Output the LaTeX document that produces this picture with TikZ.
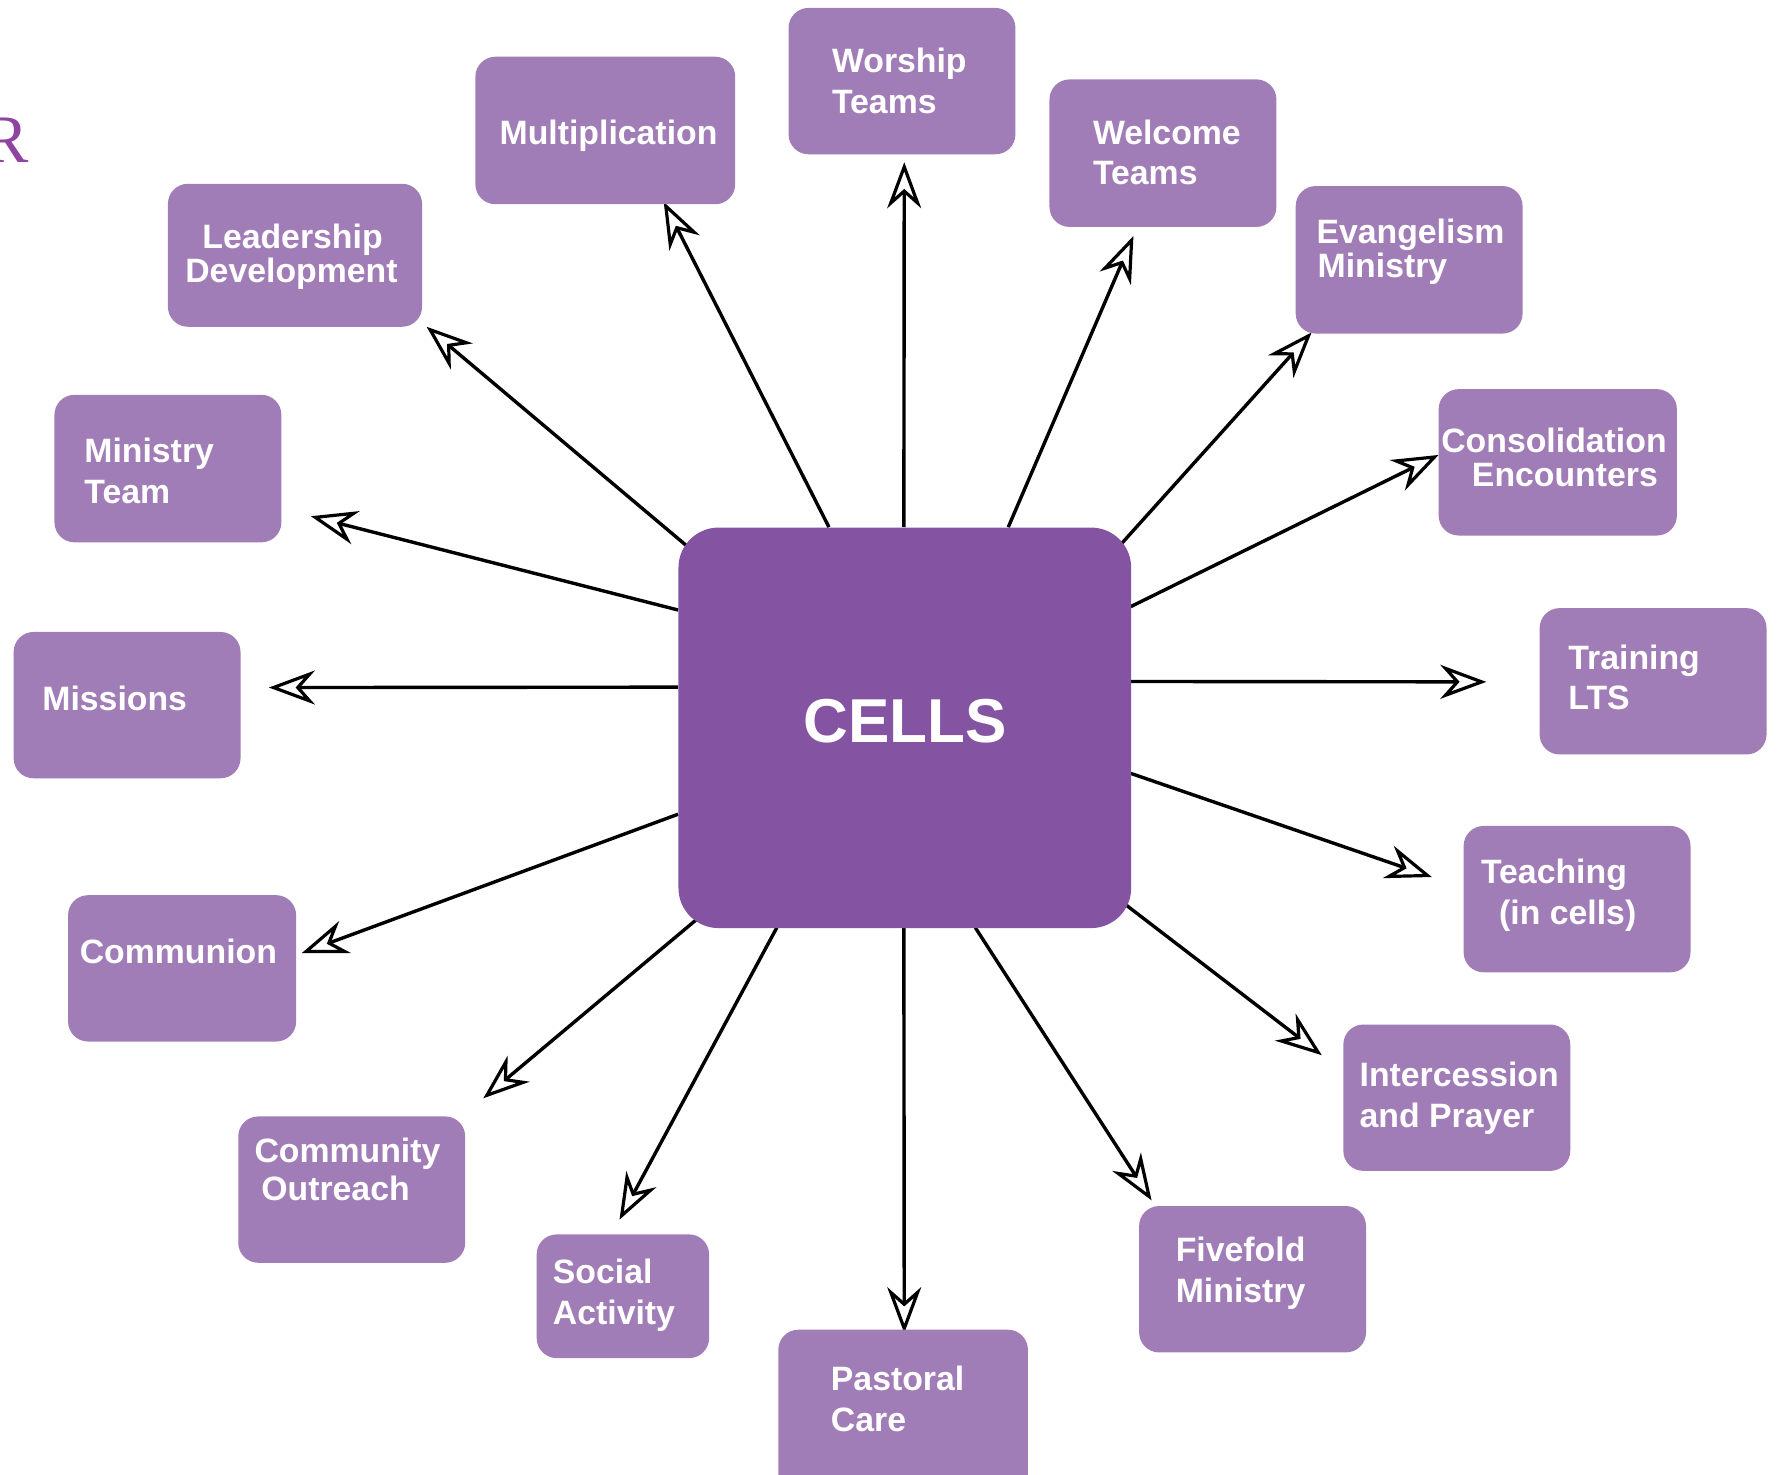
\documentclass[tikz,border=0pt]{standalone}
\usepackage{fontspec}
\setmainfont{Liberation Sans}
\newfontfamily\serifR{Liberation Serif}
\usetikzlibrary{arrows.meta,fit,calc,backgrounds}
\definecolor{boxc}{HTML}{A17DB8}
\definecolor{cellc}{HTML}{8454A2}
\definecolor{rc}{HTML}{8E44A0}
\tikzset{
  box/.style={fill=boxc, rounded corners=10pt, inner sep=0pt},
  cellbox/.style={fill=cellc, rounded corners=20pt, inner sep=0pt},
  lbl/.style={anchor=base west, inner sep=0pt, text=white, font=\fontsize{16.9}{20}\selectfont\bfseries},
  arr/.style={line width=1.7pt, -{Stealth[length=23pt, width=17pt, inset=7.5pt, fill=white, line width=1.6pt]}},
}
\begin{document}
\begin{tikzpicture}[x=0.5673pt, y=-0.5673pt]
\useasboundingbox (0,0) rectangle (1568,1300);

% letter at the left edge
\node[anchor=base west, inner sep=0pt, text=rc, font=\fontsize{34}{40}\selectfont\serifR] (rletter) at (-15,143) {R};

% central box
\node[cellbox, fit={(598,465) (997,818)}] (cells) {};
\node[inner sep=0pt, text=white, font=\fontsize{31}{36}\selectfont\bfseries] (cells-t) at (798,636) {CELLS};

% surrounding boxes
\node[box, fit={(695,7) (895,136)}] (worship) {};
\node[box, fit={(419,50) (648,180)}] (multi) {};
\node[box, fit={(925,70) (1125,200)}] (welcome) {};
\node[box, fit={(148,162) (372,288)}] (leader) {};
\node[box, fit={(1142,164) (1342,294)}] (evang) {};
\node[box, fit={(48,348) (248,478)}] (mteam) {};
\node[box, fit={(1268,343) (1478,472)}] (consol) {};
\node[box, fit={(12,557) (212,686)}] (missions) {};
\node[box, fit={(1357,536) (1557,665)}] (training) {};
\node[box, fit={(60,789) (261,918)}] (commun) {};
\node[box, fit={(1290,728) (1490,857)}] (teaching) {};
\node[box, fit={(1184,903) (1384,1032)}] (interc) {};
\node[box, fit={(210,984) (410,1113)}] (commout) {};
\node[box, fit={(473,1088) (625,1197)}] (social) {};
\node[box, fit={(686,1172) (906,1330)}] (pastoral) {};
\node[box, fit={(1004,1063) (1204,1192)}] (fivefold) {};

% labels
\node[lbl] (worship-1) at (733,64) {Worship};
\node[lbl] (worship-2) at (733,100) {Teams};
\node[lbl] (multi-1) at (440,127) {Multiplication};
\node[lbl] (welcome-1) at (963,127) {Welcome};
\node[lbl] (welcome-2) at (963,163) {Teams};
\node[lbl] (leader-1) at (178,219) {Leadership};
\node[lbl] (leader-2) at (163,249) {Development};
\node[lbl] (evang-1) at (1160,215) {Evangelism};
\node[lbl] (evang-2) at (1161,245) {Ministry};
\node[lbl] (mteam-1) at (74,408) {Ministry};
\node[lbl] (mteam-2) at (74,444) {Team};
\node[lbl] (consol-1) at (1270,399) {Consolidation};
\node[lbl] (consol-2) at (1297,429) {Encounters};
\node[lbl] (missions-1) at (37,626) {Missions};
\node[lbl] (training-1) at (1382,590) {Training};
\node[lbl] (training-2) at (1382,625) {LTS};
\node[lbl] (commun-1) at (70,849) {Communion};
\node[lbl] (teaching-1) at (1305,779) {Teaching};
\node[lbl] (teaching-2) at (1321,815) {(in cells)};
\node[lbl] (interc-1) at (1198,958) {Intercession};
\node[lbl] (interc-2) at (1198,994) {and Prayer};
\node[lbl] (commout-1) at (224,1025) {Community};
\node[lbl] (commout-2) at (230,1058) {Outreach};
\node[lbl] (social-1) at (487,1131) {Social};
\node[lbl] (social-2) at (487,1167) {Activity};
\node[lbl] (pastoral-1) at (732,1226) {Pastoral};
\node[lbl] (pastoral-2) at (732,1262) {Care};
\node[lbl] (fivefold-1) at (1036,1112) {Fivefold};
\node[lbl] (fivefold-2) at (1036,1148) {Ministry};

% arrow tips (free ends)
\coordinate (t-worship) at (797,143);
\coordinate (t-multi) at (585,178);
\coordinate (t-welcome) at (999,208);
\coordinate (t-leader) at (376,288);
\coordinate (t-evang) at (1156,293);
\coordinate (t-mteam) at (274,455);
\coordinate (t-consol) at (1268,401);
\coordinate (t-missions) at (237,606);
\coordinate (t-training) at (1310,601);
\coordinate (t-commun) at (266,840);
\coordinate (t-teaching) at (1262,773);
\coordinate (t-interc) at (1165,930);
\coordinate (t-commout) at (426,968);
\coordinate (t-social) at (546,1075);
\coordinate (t-pastoral) at (797,1175);
\coordinate (t-fivefold) at (1015,1058);

\begin{scope}[on background layer]
\draw[arr] ($(cells.north west)+(199,0)$) -- (t-worship);
\draw[arr] ($(cells.north west)+(133,0)$) -- (t-multi);
\draw[arr] ($(cells.north west)+(291,0)$) -- (t-welcome);
\draw[arr] ($(cells.north west)+(13,21)$) -- (t-leader);
\draw[arr] ($(cells.north west)+(385,21)$) -- (t-evang);
\draw[arr] ($(cells.north west)+(0,73)$) -- (t-mteam);
\draw[arr] ($(cells.north west)+(399,70)$) -- (t-consol);
\draw[arr] ($(cells.north west)+(0,141)$) -- (t-missions);
\draw[arr] ($(cells.north west)+(399,136)$) -- (t-training);
\draw[arr] ($(cells.north west)+(0,253)$) -- (t-commun);
\draw[arr] ($(cells.north west)+(399,217)$) -- (t-teaching);
\draw[arr] ($(cells.north west)+(387,327)$) -- (t-interc);
\draw[arr] ($(cells.north west)+(22,341)$) -- (t-commout);
\draw[arr] ($(cells.north west)+(87,353)$) -- (t-social);
\draw[arr] ($(cells.north west)+(199,353)$) -- (t-pastoral);
\draw[arr] ($(cells.north west)+(262,353)$) -- (t-fivefold);
\end{scope}
\end{tikzpicture}
\end{document}
